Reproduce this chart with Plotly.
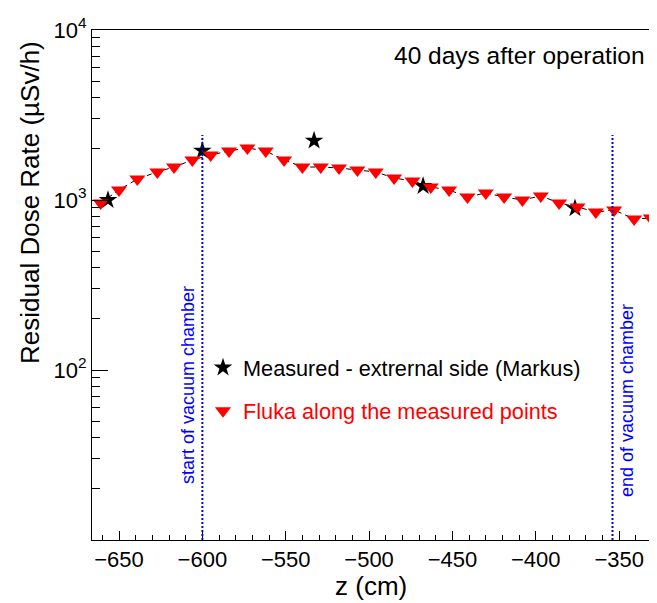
import plotly.graph_objects as go

# ---- data ----
fluka_z = [-661, -650, -639, -627, -617, -606, -595, -584, -573, -562, -551,
           -540, -529, -518, -507, -496, -485, -474, -463, -452, -441, -430,
           -419, -408, -397, -386, -375, -364, -353, -341, -331]
fluka_dose = [960, 1145, 1330, 1462, 1563, 1719, 1840, 1943, 2023, 1943, 1719,
              1563, 1563, 1543, 1501, 1462, 1347, 1294, 1192, 1145, 1042, 1100,
              1042, 1000, 1057, 960, 910, 849, 874, 773, 783]
meas_z = [-656.6, -600, -533, -467.6, -376.5]
meas_dose = [1000, 1950, 2234, 1208, 893]
vac_start, vac_end = -600, -354
x_range = [-666.2, -327.3]
y_tickvals = [10, 100, 1000, 10000]
y_ticktext = ["", "10<sup>2</sup>", "10<sup>3</sup>", "10<sup>4</sup>"]

FONT = "Liberation Sans, Arial, Helvetica, sans-serif"
OFF = 8  # page body margin
W, H = 657 - OFF, 603 - OFF
L, R, T = 92 - OFF, 0, 30 - OFF
B = H - (540 - OFF)
PW, PH = W - L - R, H - T - B

def px_x(x):
    return (x - OFF - L) / PW

def px_y(y):
    return (H - B - (y - OFF)) / PH

fig = go.Figure()

fig.add_trace(go.Scatter(
    x=fluka_z, y=fluka_dose, mode="lines",
    line=dict(color="black", width=1, dash="5px,4px"),
    showlegend=False, hoverinfo="skip"))

fig.add_trace(go.Scatter(
    x=meas_z, y=meas_dose, mode="markers",
    marker=dict(symbol="star", size=14, color="black"),
    name="Measured - extrernal side (Markus)", legendgroup="a"))

fig.add_trace(go.Scatter(
    x=fluka_z, y=fluka_dose, mode="markers",
    marker=dict(symbol="triangle-down", size=14, color="#ff0000"),
    name="<span style='color:#ff0000'>Fluka along the measured points</span>",
    legendgroup="b"))

# vertical dotted lines
for xv in (vac_start, vac_end):
    fig.add_shape(type="line", xref="x", yref="paper", x0=xv, x1=xv,
                  y0=0, y1=px_y(135),
                  line=dict(color="#0000ff", width=2, dash="2px,2px"))

ann = []
ann.append(dict(text="start of vacuum chamber", xref="paper", yref="paper",
                x=px_x(188), y=px_y(385), showarrow=False, textangle=-90,
                font=dict(family=FONT, size=18, color="#0000ff"),
                xanchor="center", yanchor="middle"))
ann.append(dict(text="end of vacuum chamber", xref="paper", yref="paper",
                x=px_x(627), y=px_y(401), showarrow=False, textangle=-90,
                font=dict(family=FONT, size=18, color="#0000ff"),
                xanchor="center", yanchor="middle"))
ann.append(dict(text="40 days after operation", xref="paper", yref="paper",
                x=px_x(647), y=px_y(55), showarrow=False,
                font=dict(family=FONT, size=24.5, color="black"),
                xanchor="right", yanchor="middle"))
ann.append(dict(text="Residual Dose Rate (µSv/h)", xref="paper", yref="paper",
                x=px_x(30), y=px_y(203), showarrow=False, textangle=-90,
                font=dict(family=FONT, size=26, color="black"),
                xanchor="center", yanchor="middle"))
ann.append(dict(text="z (cm)", xref="paper", yref="paper",
                x=px_x(371), y=px_y(586), showarrow=False,
                font=dict(family=FONT, size=26, color="black"),
                xanchor="center", yanchor="middle"))

fig.update_layout(
    width=W, height=H,
    margin=dict(l=L, r=R, t=T, b=B),
    paper_bgcolor="white", plot_bgcolor="white",
    font=dict(family=FONT, size=22, color="black"),
    annotations=ann,
    legend=dict(x=px_x(203), y=px_y(347), xanchor="left", yanchor="top",
                bgcolor="rgba(0,0,0,0)", borderwidth=0,
                font=dict(family=FONT, size=21.7, color="black"),
                tracegroupgap=12, traceorder="grouped"),
    xaxis=dict(range=x_range, showgrid=False, zeroline=False,
               showline=True, linecolor="black", linewidth=1, mirror=True,
               ticks="inside", ticklen=9, tickcolor="black",
               dtick=50, tick0=0,
               tickfont=dict(family=FONT, size=22),
               minor=dict(dtick=10, ticks="inside", ticklen=5,
                          tickcolor="black", showgrid=False)),
    yaxis=dict(type="log", range=[1, 4], showgrid=False, zeroline=False,
               showline=True, linecolor="black", linewidth=1,
               ticks="inside", ticklen=16, tickcolor="black",
               tickvals=y_tickvals, ticktext=y_ticktext,
               tickfont=dict(family=FONT, size=22),
               minor=dict(ticks="inside", ticklen=8, dtick="D1",
                          tickcolor="black", showgrid=False)),
)

fig.write_html("out.html")
